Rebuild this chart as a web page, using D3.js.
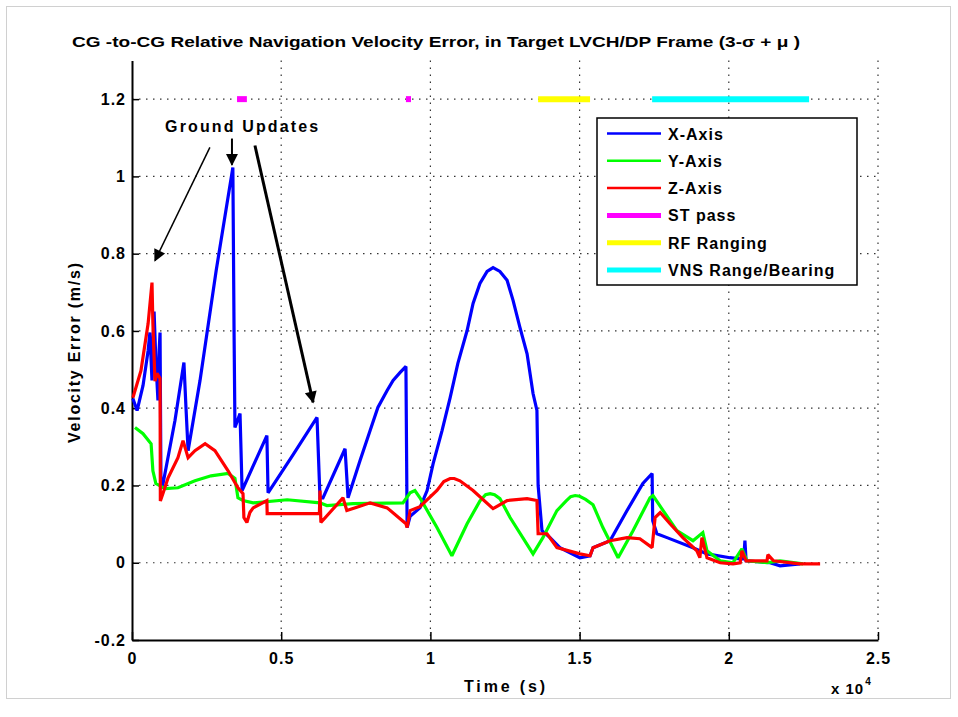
<!DOCTYPE html>
<html>
<head>
<meta charset="utf-8">
<script src="https://cdn.jsdelivr.net/npm/d3@7"></script>
<style>
  body { margin: 0; background: #fff; }
  text { font-family: "Liberation Sans", Arial, sans-serif; font-weight: bold; fill: #000; }
</style>
</head>
<body>
<svg id="chart" width="958" height="717"></svg>
<script>
// time values are in units of 1e4 s (axis shows x 10^4)
var xTicks = [0, 0.5, 1, 1.5, 2, 2.5];
var yTicks = [-0.2, 0, 0.2, 0.4, 0.6, 0.8, 1, 1.2];

var xAxisData = [[0.003,0.425],[0.017,0.394],[0.037,0.459],[0.054,0.549],[0.060,0.596],[0.067,0.472],[0.074,0.65],
  [0.080,0.523],[0.087,0.42],[0.091,0.55],[0.094,0.596],[0.097,0.212],[0.101,0.192],[0.144,0.368],[0.174,0.518],
  [0.181,0.40],[0.188,0.290],[0.228,0.472],[0.282,0.756],[0.338,1.023],[0.342,0.60],[0.345,0.350],[0.362,0.386],
  [0.369,0.187],[0.452,0.329],[0.456,0.181],[0.540,0.28],[0.620,0.376],[0.630,0.168],[0.640,0.168],[0.714,0.295],
  [0.724,0.168],[0.764,0.264],[0.798,0.342],[0.824,0.402],[0.855,0.446],[0.875,0.472],[0.898,0.492],[0.918,0.508],
  [0.920,0.30],[0.922,0.091],[0.932,0.12],[0.965,0.142],[0.989,0.187],[1.009,0.256],[1.039,0.342],[1.066,0.427],
  [1.092,0.516],[1.123,0.601],[1.143,0.671],[1.166,0.723],[1.190,0.754],[1.210,0.764],[1.233,0.754],[1.257,0.731],
  [1.277,0.679],[1.300,0.609],[1.324,0.541],[1.344,0.438],[1.357,0.394],[1.361,0.20],[1.374,0.083],[1.401,0.065],
  [1.434,0.039],[1.501,0.013],[1.535,0.018],[1.545,0.039],[1.602,0.057],[1.659,0.135],[1.712,0.205],[1.743,0.231],
  [1.745,0.109],[1.759,0.075],[1.793,0.065],[1.880,0.039],[1.927,0.023],[2.004,0.013],[2.038,0.010],[2.050,0.010],
  [2.054,0.057],[2.058,0.005],[2.138,0.0],[2.172,-0.008],[2.239,-0.003]];

var yAxisData = [[0.010,0.35],[0.037,0.334],[0.064,0.308],[0.070,0.238],[0.080,0.205],[0.111,0.192],[0.154,0.194],
  [0.211,0.212],[0.265,0.225],[0.322,0.231],[0.345,0.218],[0.355,0.168],[0.372,0.161],[0.406,0.155],[0.520,0.163],
  [0.630,0.155],[0.653,0.148],[0.741,0.153],[0.908,0.155],[0.932,0.181],[0.948,0.187],[0.965,0.168],[1.022,0.091],
  [1.072,0.018],[1.123,0.101],[1.166,0.16],[1.185,0.176],[1.200,0.179],[1.215,0.176],[1.233,0.166],[1.267,0.117],
  [1.344,0.023],[1.377,0.065],[1.424,0.135],[1.455,0.160],[1.470,0.171],[1.485,0.174],[1.500,0.172],[1.520,0.164],
  [1.545,0.150],[1.578,0.091],[1.629,0.013],[1.679,0.083],[1.736,0.168],[1.746,0.174],[1.780,0.135],[1.826,0.083],
  [1.880,0.057],[1.913,0.078],[1.927,0.031],[1.971,0.005],[2.014,0.0],[2.044,0.036],[2.061,0.005],[2.128,0.0],
  [2.172,0.005],[2.249,-0.003]];

var zAxisData = [[0.003,0.427],[0.030,0.497],[0.054,0.619],[0.067,0.725],[0.070,0.62],[0.074,0.533],[0.077,0.47],
  [0.084,0.49],[0.094,0.477],[0.095,0.16],[0.104,0.18],[0.121,0.22],[0.154,0.272],[0.171,0.316],[0.188,0.272],
  [0.211,0.290],[0.245,0.308],[0.278,0.29],[0.322,0.238],[0.355,0.194],[0.372,0.179],[0.375,0.117],[0.385,0.104],
  [0.395,0.13],[0.406,0.142],[0.452,0.161],[0.453,0.127],[0.520,0.127],[0.628,0.127],[0.630,0.187],[0.633,0.104],
  [0.707,0.168],[0.720,0.135],[0.798,0.155],[0.855,0.142],[0.918,0.101],[0.922,0.091],[0.932,0.135],[0.965,0.145],
  [1.022,0.187],[1.045,0.210],[1.066,0.218],[1.080,0.218],[1.099,0.212],[1.143,0.187],[1.210,0.140],[1.257,0.161],
  [1.324,0.166],[1.357,0.161],[1.361,0.075],[1.391,0.075],[1.424,0.039],[1.501,0.023],[1.535,0.018],[1.545,0.039],
  [1.602,0.057],[1.659,0.065],[1.702,0.062],[1.743,0.039],[1.753,0.117],[1.770,0.130],[1.803,0.101],[1.846,0.065],
  [1.893,0.031],[1.903,0.013],[1.910,0.065],[1.927,0.013],[1.971,0.0],[2.014,-0.003],[2.038,0.0],[2.044,0.031],
  [2.058,0.005],[2.128,0.005],[2.131,0.021],[2.150,0.005],[2.239,-0.003],[2.306,-0.003]];

// sensor pass intervals drawn at 1.2
var stPass = [[0.352, 0.385], [0.918, 0.935]];
var rfRanging = [[1.361, 1.535]];
var vnsRange = [[1.743, 2.269]];
var BAR_LEVEL = 1.2;

var series = [
  { name: 'X-Axis', color: '#0000ff', data: xAxisData },
  { name: 'Y-Axis', color: '#00ff00', data: yAxisData },
  { name: 'Z-Axis', color: '#ff0000', data: zAxisData }
];
var bars = [
  { name: 'ST pass', color: '#ff00ff', data: stPass },
  { name: 'RF Ranging', color: '#ffff00', data: rfRanging },
  { name: 'VNS Range/Bearing', color: '#00ffff', data: vnsRange }
];

// "Ground Updates" arrows: [fromT, fromV, toT, toV, width]
var arrows = [[0.261, 1.075, 0.077, 0.782, 1.5], [0.335, 1.098, 0.335, 1.030, 2], [0.412, 1.080, 0.607, 0.415, 3]];

var svg = d3.select('#chart');
var PL = 132, PR = 878, PT = 60.5, PB = 640;

var x = d3.scaleLinear().domain([0, 2.5]).range([PL, PR]);
var y = d3.scaleLinear().domain([-0.2, 1.3]).range([PB, PT]);

// outer frame
svg.append('rect').attr('x', 6.5).attr('y', 6.5).attr('width', 944).attr('height', 692)
  .attr('fill', 'none').attr('stroke', '#d0d0d0');

// grid
svg.append('g').selectAll('line').data(xTicks.slice(1)).enter().append('line')
  .attr('x1', d => x(d)).attr('x2', d => x(d)).attr('y1', PT).attr('y2', PB)
  .attr('stroke', '#333').attr('stroke-width', 1.2).attr('stroke-dasharray', '1.5,5.5');
svg.append('g').selectAll('line').data(yTicks.slice(1)).enter().append('line')
  .attr('x1', PL).attr('x2', PR).attr('y1', d => y(d)).attr('y2', d => y(d))
  .attr('stroke', '#333').attr('stroke-width', 1.2).attr('stroke-dasharray', '1.5,5.5');

// axes
var xAxis = d3.axisBottom(x).tickValues(xTicks).tickSizeInner(-8).tickSizeOuter(0).tickPadding(13)
  .tickFormat(d => String(d));
var gx = svg.append('g').attr('transform', 'translate(0,' + PB + ')').call(xAxis);
gx.select('.domain').attr('stroke', '#000').attr('stroke-width', 2);
gx.selectAll('.tick line').attr('stroke', '#000').attr('stroke-width', 1.5);
gx.selectAll('text').style('font-size', '16px').style('font-family', '"Liberation Sans", Arial, sans-serif')
  .style('font-weight', 'bold').style('letter-spacing', '1px').attr('fill', '#000');

var yAxis = d3.axisLeft(y).tickValues(yTicks).tickSizeInner(-7).tickSizeOuter(0).tickPadding(6)
  .tickFormat(d => String(d));
var gy = svg.append('g').attr('transform', 'translate(' + PL + ',0)').call(yAxis);
gy.select('.domain').attr('stroke', '#000').attr('stroke-width', 2);
gy.selectAll('.tick line').attr('stroke', '#000').attr('stroke-width', 1.5);
gy.selectAll('text').style('font-size', '16px').style('font-family', '"Liberation Sans", Arial, sans-serif')
  .style('font-weight', 'bold').style('letter-spacing', '1px').attr('fill', '#000');

// sensor bars
bars.forEach(function (b) {
  svg.append('g').selectAll('line').data(b.data).enter().append('line')
    .attr('x1', d => x(d[0])).attr('x2', d => x(d[1]))
    .attr('y1', y(BAR_LEVEL)).attr('y2', y(BAR_LEVEL))
    .attr('stroke', b.color).attr('stroke-width', 6);
});

// series lines
var line = d3.line().x(d => x(d[0])).y(d => y(d[1]));
series.forEach(function (s) {
  svg.append('path').datum(s.data).attr('d', line)
    .attr('fill', 'none').attr('stroke', s.color).attr('stroke-width', 3.2)
    .attr('stroke-linejoin', 'miter').attr('stroke-miterlimit', 2);
});

// annotation
svg.append('defs').append('marker').attr('id', 'arrow').attr('viewBox', '0 0 10 10')
  .attr('refX', 9).attr('refY', 5).attr('markerUnits', 'userSpaceOnUse')
  .attr('markerWidth', 16).attr('markerHeight', 12).attr('orient', 'auto')
  .append('path').attr('d', 'M0,0 L10,5 L0,10 Z').attr('fill', '#000');
svg.append('g').selectAll('line').data(arrows).enter().append('line')
  .attr('x1', d => x(d[0])).attr('y1', d => y(d[1])).attr('x2', d => x(d[2])).attr('y2', d => y(d[3]))
  .attr('stroke', '#000').attr('stroke-width', d => d[4]).attr('marker-end', 'url(#arrow)');
svg.append('text').attr('x', x(0.111)).attr('y', y(1.116)).style('font-size', '16px')
  .attr('textLength', 153).attr('lengthAdjust', 'spacing')
  .text('Ground Updates');

// title and labels
svg.append('text').attr('x', 72).attr('y', 47).style('font-size', '14.5px')
  .attr('textLength', 728).attr('lengthAdjust', 'spacingAndGlyphs')
  .text('CG -to-CG Relative Navigation Velocity Error, in Target LVCH/DP Frame (3-\u03c3 + \u03bc )');
svg.append('text').attr('x', 464).attr('y', 692).style('font-size', '16px')
  .attr('textLength', 81).attr('lengthAdjust', 'spacing').text('Time (s)');
svg.append('text').attr('transform', 'translate(80,443) rotate(-90)')
  .style('font-size', '16px').attr('textLength', 180).attr('lengthAdjust', 'spacing')
  .text('Velocity Error (m/s)');
var mult = svg.append('text').attr('x', 831).attr('y', 694).style('font-size', '15px').style('letter-spacing', '1px');
mult.append('tspan').text('x 10');
mult.append('tspan').attr('dy', -9).attr('dx', 1).style('font-size', '10px').text('4');

// legend
var lg = svg.append('g').attr('transform', 'translate(597,118)');
lg.append('rect').attr('width', 260).attr('height', 167).attr('fill', '#fff')
  .attr('stroke', '#000').attr('stroke-width', 1.5);
var items = series.map(s => ({ name: s.name, color: s.color, w: 2.5 }))
  .concat(bars.map(b => ({ name: b.name, color: b.color, w: 5 })));
var row = lg.selectAll('g.item').data(items).enter().append('g')
  .attr('transform', (d, i) => 'translate(0,' + (15.5 + i * 27.3) + ')');
row.append('line').attr('x1', 10).attr('x2', 64).attr('y1', 0).attr('y2', 0)
  .attr('stroke', d => d.color).attr('stroke-width', d => d.w);
row.append('text').attr('x', 71).attr('y', 6).style('font-size', '16px').style('letter-spacing', '1px')
  .text(d => d.name);
</script>
</body>
</html>
